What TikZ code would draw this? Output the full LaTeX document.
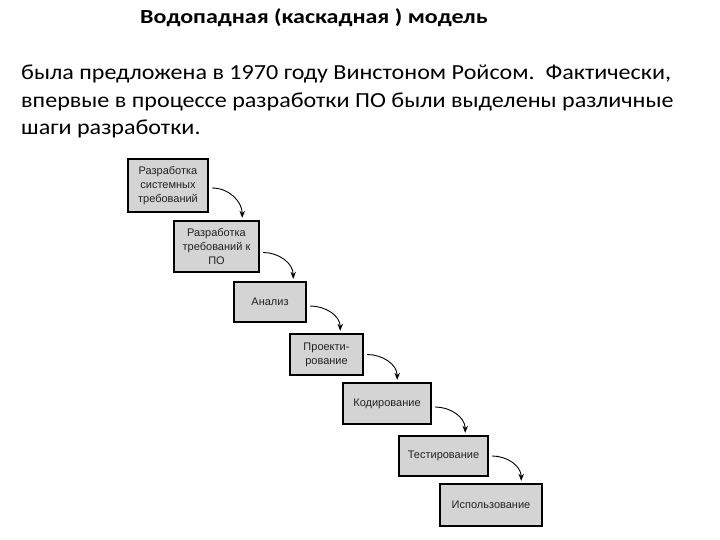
\documentclass[tikz,border=0pt]{standalone}
\usepackage{fontspec}
\setmainfont{Carlito}
\newfontfamily\bodyfont[FakeStretch=1.12]{Carlito}
\newfontfamily\titlefont[FakeStretch=1.2]{Carlito}
\newfontfamily\boxfont{Liberation Sans}
\usetikzlibrary{arrows.meta,calc}
\definecolor{boxgray}{HTML}{D4D4D4}
\definecolor{boxtext}{HTML}{222222}
\tikzset{
  stage/.style={draw=black, line width=2.4pt, fill=boxgray, inner sep=1pt,
    align=center, font=\boxfont\fontsize{11}{14}\selectfont, text=boxtext},
  flow/.style={line width=0.9pt, -{Stealth[length=7pt,width=5.5pt]}},
  body/.style={anchor=base west, inner sep=0pt, font=\bodyfont\fontsize{21.5}{25}\selectfont}
}
\begin{document}
\begin{tikzpicture}[x=1pt,y=-1pt]
\useasboundingbox (0,0) rectangle (720,540);
\node[anchor=base west, inner sep=0pt, font=\titlefont\bfseries\fontsize{20}{22}\selectfont] (title) at (140,24) {Водопадная (каскадная ) модель};
\node[body] (t1) at (21,80) {была предложена в 1970 году Винстоном Ройсом.\ \ Фактически,};
\node[body] (t2) at (21,108) {впервые в процессе разработки ПО были выделены различные};
\node[body] (t3) at (21,135) {шаги разработки.};

\node[stage, minimum width=80pt, minimum height=53pt] (b1) at (168,185.5) {Разработка\\системных\\требований};
\node[stage, minimum width=85pt, minimum height=51pt] (b2) at (216.5,246.5) {Разработка\\требований к\\ПО};
\node[stage, minimum width=72pt, minimum height=40pt] (b3) at (270,302) {Анализ};
\node[stage, minimum width=73pt, minimum height=41pt] (b4) at (326.5,354.5) {Проекти-\\рование};
\node[stage, minimum width=88pt, minimum height=41pt] (b5) at (387,403.5) {Кодирование};
\node[stage, minimum width=89pt, minimum height=40pt] (b6) at (443.5,456) {Тестирование};
\node[stage, minimum width=102pt, minimum height=42pt] (b7) at (491,505) {Использование};

\coordinate (s1) at ([xshift=3pt,yshift=-2.5pt]b1.east);
\coordinate (s2) at ([xshift=3pt,yshift=-6pt]b2.east);
\coordinate (s3) at ([xshift=3pt,yshift=-4pt]b3.east);
\coordinate (s4) at ([xshift=3pt]b4.east);
\coordinate (s5) at ([xshift=3pt,yshift=-3.5pt]b5.east);
\coordinate (s6) at ([xshift=3pt]b6.east);
\draw[flow] (s1) to[out=0,in=90] ($(s1 |- b2.north)+(30,-2)$);
\draw[flow] (s2) to[out=0,in=90] ($(s2 |- b3.north)+(30,-2)$);
\draw[flow] (s3) to[out=0,in=90] ($(s3 |- b4.north)+(30,-2)$);
\draw[flow] (s4) to[out=0,in=90] ($(s4 |- b5.north)+(30,-2)$);
\draw[flow] (s5) to[out=0,in=90] ($(s5 |- b6.north)+(30,-2)$);
\draw[flow] (s6) to[out=0,in=90] ($(s6 |- b7.north)+(29,-2)$);
\end{tikzpicture}
\end{document}
